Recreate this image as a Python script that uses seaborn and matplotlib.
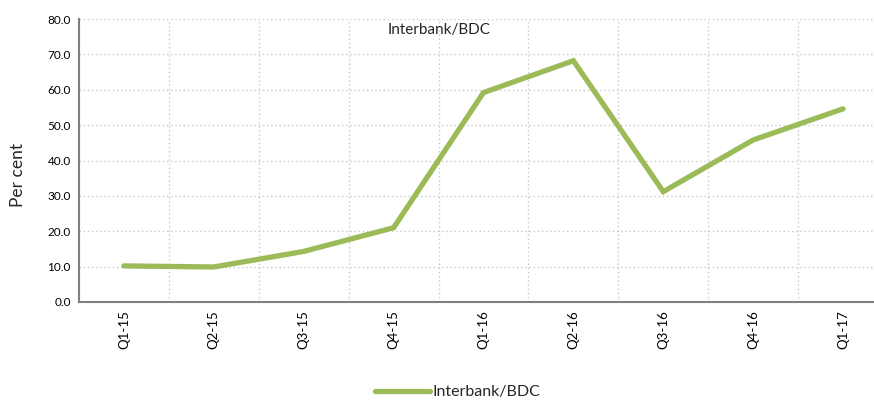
import matplotlib
matplotlib.use("Agg")
import matplotlib.pyplot as plt
from matplotlib.ticker import FixedLocator, NullFormatter, FixedFormatter
import seaborn as sns
import pandas as pd

quarters = ["Q1-15", "Q2-15", "Q3-15", "Q4-15", "Q1-16", "Q2-16", "Q3-16", "Q4-16", "Q1-17"]
interbank_bdc = [10.2, 9.9, 14.3, 21.0, 59.2, 68.2, 31.2, 45.8, 54.6]
y_ticks = [0, 10, 20, 30, 40, 50, 60, 70, 80]

sns.set_style("white")
plt.rcParams["font.family"] = ["Lato", "DejaVu Sans"]

df = pd.DataFrame({"quarter": quarters, "value": interbank_bdc, "series": "Interbank/BDC"})
df["pos"] = range(len(quarters))

fig = plt.figure(figsize=(8.74, 4.0), dpi=100)
ax = fig.add_axes([0.0904, 0.245, 0.9256, 0.7075])

green = "#9BBB59"
sns.lineplot(data=df, x="pos", y="value", hue="series", palette=[green],
             linewidth=3.8, sort=False, ax=ax, legend=False,
             solid_capstyle="round", solid_joinstyle="miter")

n = len(quarters)
ax.set_xlim(-0.5, n - 0.5)
ax.set_ylim(0, 80)

# Category boundaries carry the ticks and grid; labels sit at centres
ax.xaxis.set_major_locator(FixedLocator([i - 0.5 for i in range(n + 1)]))
ax.xaxis.set_major_formatter(NullFormatter())
ax.xaxis.set_minor_locator(FixedLocator(list(range(n))))
ax.xaxis.set_minor_formatter(FixedFormatter(quarters))
ax.tick_params(axis="x", which="minor", length=0, labelrotation=90, labelsize=9.5,
               labelcolor="#000000", pad=6)
ax.tick_params(axis="x", which="major", length=4, width=1, color="#808080", direction="out")

ax.set_yticks(y_ticks)
ax.set_yticklabels([f"{v:.1f}" for v in y_ticks])
ax.tick_params(axis="y", length=4, width=1, color="#808080", direction="out",
               labelsize=8.5, labelcolor="#000000", pad=2)

ax.grid(True, which="major", axis="both", linestyle=(0, (1, 2)), color="#c8c8c8", linewidth=1)

for side in ["top", "right"]:
    ax.spines[side].set_visible(False)
for side in ["left", "bottom"]:
    ax.spines[side].set_color("#808080")
    ax.spines[side].set_linewidth(1.5)

ax.set_xlabel("")
ax.set_ylabel("Per cent", fontsize=12.5)
ax.yaxis.set_label_coords(-0.066, 0.45)

fig.text(0.502, 0.925, "Interbank/BDC", ha="center", va="center", fontsize=11)

handle = plt.Line2D([], [], color=green, linewidth=3.8, solid_capstyle="round")
fig.legend([handle], ["Interbank/BDC"], loc="center", bbox_to_anchor=(0.524, 0.02),
           frameon=False, fontsize=11.5, handlelength=3.4, handletextpad=0.2)

fig.savefig("out.png", dpi=100)
